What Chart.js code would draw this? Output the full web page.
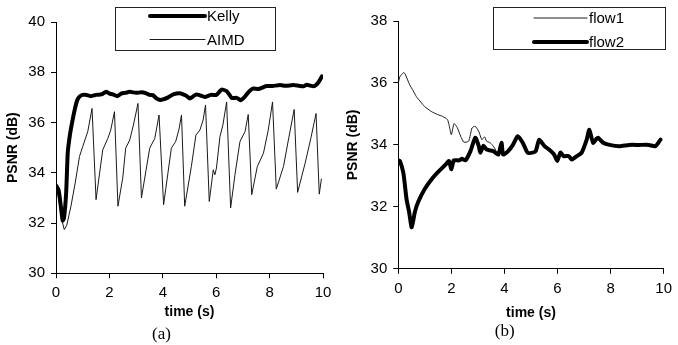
<!DOCTYPE html>
<html>
<head>
<meta charset="utf-8">
<script src="https://cdn.jsdelivr.net/npm/chart.js@4"></script>
<style>
  body { margin: 0; background: #fff; }
  #wrap { position: relative; width: 678px; height: 345px; }
  #boxA { position: absolute; left: 0; top: 0; }
  #boxB { position: absolute; left: 340px; top: 0; }
</style>
</head>
<body>
<div id="wrap">
  <canvas id="boxA" width="340" height="345"></canvas>
  <canvas id="boxB" width="338" height="345"></canvas>
</div>
<script>
// tick labels
const timeTicks = [0, 2, 4, 6, 8, 10];
const psnrTicksA = [30, 32, 34, 36, 38, 40];
const psnrTicksB = [30, 32, 34, 36, 38];

// (a) Kelly vs AIMD
const kellyTime = [0, 0.1, 0.2, 0.25, 0.3, 0.38, 0.44, 0.52, 0.62, 0.72, 0.8, 0.9, 1.0, 1.13, 1.3, 1.5, 1.7, 1.88, 2.0, 2.13, 2.3, 2.44, 2.6, 2.76, 3.0, 3.2, 3.38, 3.5, 3.63, 3.76, 3.9, 4.01, 4.2, 4.39, 4.64, 4.76, 4.9, 5.01, 5.15, 5.26, 5.4, 5.57, 5.8, 6.01, 6.1, 6.2, 6.39, 6.5, 6.58, 6.77, 6.93, 7.05, 7.14, 7.28, 7.39, 7.58, 7.75, 7.89, 8.1, 8.39, 8.6, 8.89, 9.1, 9.27, 9.39, 9.65, 9.75, 9.84, 9.96];
const kellyPsnr = [33.5, 33.3, 32.5, 32.1, 32.2, 33.2, 34.8, 35.5, 36.1, 36.6, 36.9, 37.05, 37.1, 37.1, 37.05, 37.1, 37.12, 37.22, 37.15, 37.12, 37.05, 37.15, 37.18, 37.22, 37.18, 37.2, 37.16, 37.1, 37.09, 36.96, 36.9, 36.92, 37.0, 37.12, 37.16, 37.12, 37.05, 36.96, 37.05, 37.12, 37.08, 37.02, 37.1, 37.1, 37.2, 37.31, 37.25, 37.1, 36.98, 36.98, 36.89, 37.0, 37.12, 37.28, 37.35, 37.33, 37.4, 37.45, 37.45, 37.49, 37.46, 37.49, 37.46, 37.44, 37.5, 37.44, 37.5, 37.62, 37.84];
const aimdTime = [0, 0.1, 0.2, 0.31, 0.4, 0.56, 0.72, 0.88, 1.0, 1.19, 1.35, 1.5, 1.75, 1.94, 2.05, 2.19, 2.32, 2.5, 2.61, 2.76, 2.9, 3.07, 3.2, 3.51, 3.7, 3.86, 4.03, 4.32, 4.48, 4.6, 4.7, 4.82, 5.07, 5.24, 5.39, 5.51, 5.6, 5.74, 5.89, 5.95, 6.01, 6.14, 6.25, 6.39, 6.54, 6.7, 6.89, 7.08, 7.2, 7.33, 7.54, 7.77, 7.95, 8.11, 8.25, 8.52, 8.72, 8.92, 9.05, 9.33, 9.55, 9.74, 9.86, 9.94];
const aimdPsnr = [33.4, 33.0, 32.2, 31.74, 31.9, 32.67, 33.6, 34.65, 35.04, 35.64, 36.56, 32.93, 34.91, 35.37, 35.7, 36.43, 32.67, 33.8, 34.98, 35.3, 35.9, 36.76, 33.0, 34.98, 35.37, 36.3, 32.73, 34.98, 35.24, 35.7, 36.3, 32.67, 34.25, 35.5, 35.7, 36.1, 36.7, 32.86, 34.12, 33.92, 34.19, 35.44, 35.9, 36.82, 32.6, 33.9, 35.24, 35.64, 36.32, 33.13, 34.25, 34.78, 35.7, 36.82, 33.35, 34.25, 35.4, 36.52, 33.22, 34.38, 35.4, 36.36, 33.15, 33.75];

// (b) flow1 vs flow2
const flow1Time = [0, 0.06, 0.19, 0.25, 0.43, 0.56, 0.68, 0.85, 0.99, 1.24, 1.48, 1.67, 1.85, 1.91, 2.0, 2.1, 2.22, 2.35, 2.47, 2.65, 2.78, 2.9, 3.03, 3.15, 3.25, 3.33, 3.46, 3.58, 3.66];
const flow1Psnr = [36.0, 36.2, 36.33, 36.3, 35.94, 35.75, 35.56, 35.38, 35.24, 35.08, 34.98, 34.92, 34.82, 34.65, 34.33, 34.69, 34.56, 34.28, 34.09, 34.12, 34.55, 34.6, 34.44, 34.17, 34.26, 34.12, 34.07, 33.96, 33.85];
const flow2Time = [0, 0.06, 0.19, 0.31, 0.41, 0.5, 0.55, 0.62, 0.74, 0.99, 1.3, 1.54, 1.79, 1.91, 2.0, 2.09, 2.28, 2.4, 2.53, 2.72, 2.9, 3.03, 3.09, 3.21, 3.33, 3.58, 3.77, 3.89, 3.95, 4.14, 4.32, 4.5, 4.69, 4.87, 5.06, 5.18, 5.31, 5.5, 5.68, 5.87, 5.99, 6.11, 6.23, 6.42, 6.54, 6.73, 6.91, 7.1, 7.2, 7.34, 7.47, 7.53, 7.72, 7.96, 8.33, 8.7, 9.07, 9.44, 9.69, 9.88];
const flow2Psnr = [33.5, 33.48, 33.1, 32.25, 31.82, 31.34, 31.5, 31.82, 32.14, 32.57, 32.94, 33.16, 33.37, 33.48, 33.21, 33.5, 33.5, 33.55, 33.5, 33.8, 34.23, 33.97, 33.75, 33.97, 33.85, 33.8, 33.69, 34.07, 33.69, 33.8, 34.0, 34.28, 34.07, 33.75, 33.75, 33.8, 34.17, 33.97, 33.85, 33.69, 33.48, 33.75, 33.64, 33.64, 33.53, 33.64, 33.75, 34.17, 34.49, 34.07, 34.2, 34.23, 34.07, 34.0, 33.96, 34.0, 34.0, 34.0, 33.96, 34.17];

Chart.defaults.font.family = "'Liberation Sans', Arial, sans-serif";
Chart.defaults.color = "#000";
Chart.defaults.animation = false;

function toPoints(ts, vs) {
  return ts.map((t, i) => ({ x: t, y: vs[i] }));
}

// legend drawn as a framed box sitting over the plot, like the original figure
const boxLegend = {
  id: "boxLegend",
  afterDraw(chart, args, opts) {
    const ctx = chart.ctx;
    ctx.save();
    ctx.strokeStyle = "#222";
    ctx.lineWidth = 1;
    ctx.fillStyle = "#fff";
    ctx.fillRect(opts.x, opts.y, opts.w, opts.h);
    ctx.strokeRect(opts.x + 0.5, opts.y + 0.5, opts.w, opts.h);
    ctx.font = "15px 'Liberation Sans', Arial, sans-serif";
    ctx.textBaseline = "middle";
    ctx.fillStyle = "#000";
    opts.order.forEach((di, row) => {
      const ds = chart.data.datasets[di];
      const y = opts.rows[row];
      ctx.beginPath();
      ctx.strokeStyle = ds.borderColor;
      ctx.lineWidth = ds.borderWidth;
      ctx.lineCap = "round";
      ctx.moveTo(opts.x0, y);
      ctx.lineTo(opts.x1, y);
      ctx.stroke();
      ctx.fillText(ds.label, opts.x1 + 2, y + 1);
    });
    ctx.restore();
  },
};

function axes(yTicks, yMin, yMax, o) {
  return {
    x: {
      type: "linear",
      min: 0,
      max: 10,
      afterBuildTicks: (s) => { s.ticks = timeTicks.map((v) => ({ value: v })); },
      afterFit: (s) => { s.height = o.xh; },
      grid: { drawOnChartArea: false, tickLength: 5, color: "#000" },
      border: { color: "#000", width: 1 },
      ticks: { font: { size: 15 }, padding: o.xpad, maxRotation: 0 },
      title: { display: true, text: "time (s)", font: { size: 14, weight: "bold" }, padding: { top: 0, bottom: o.xtpad } },
    },
    y: {
      min: yMin,
      max: yMax,
      afterBuildTicks: (s) => { s.ticks = yTicks.map((v) => ({ value: v })); },
      afterFit: (s) => { s.width = o.yw; },
      grid: { drawOnChartArea: false, tickLength: 5, color: "#000" },
      border: { color: "#000", width: 1 },
      ticks: { font: { size: 15 }, padding: o.ypad },
      title: { display: true, text: "PSNR (dB)", font: { size: 14, weight: "bold" }, padding: { top: 5, bottom: 0 } },
    },
  };
}

new Chart(document.getElementById("boxA"), {
  type: "line",
  data: {
    datasets: [
      { label: "Kelly", data: toPoints(kellyTime, kellyPsnr), borderColor: "#000", borderWidth: 4, tension: 0.2 },
      { label: "AIMD", data: toPoints(aimdTime, aimdPsnr), borderColor: "#1a1a1a", borderWidth: 1, tension: 0 },
    ],
  },
  options: {
    responsive: false,
    parsing: true,
    elements: { point: { radius: 0 }, line: { borderJoinStyle: "round", borderCapStyle: "round" } },
    layout: { padding: { left: 0, top: 22, right: 17, bottom: 0 } },
    scales: axes(psnrTicksA, 30, 40, { xh: 51.3, xpad: 6, xtpad: 4, yw: 56, ypad: 6 }),
    plugins: {
      legend: { display: false },
      tooltip: { enabled: false },
      title: { display: true, position: "bottom", text: "(a)", font: { family: "'Liberation Serif', 'Times New Roman', serif", size: 17, weight: "normal" }, padding: { top: 0, bottom: 0 } },
      boxLegend: { x: 115, y: 7, w: 160, h: 43, x0: 150, x1: 205, rows: [16, 39.5], order: [0, 1] },
    },
  },
  plugins: [boxLegend],
});

new Chart(document.getElementById("boxB"), {
  type: "line",
  data: {
    datasets: [
      { label: "flow1", data: toPoints(flow1Time, flow1Psnr), borderColor: "#1a1a1a", borderWidth: 1, tension: 0.2 },
      { label: "flow2", data: toPoints(flow2Time, flow2Psnr), borderColor: "#000", borderWidth: 4, tension: 0.2 },
    ],
  },
  options: {
    responsive: false,
    elements: { point: { radius: 0 }, line: { borderJoinStyle: "round", borderCapStyle: "round" } },
    layout: { padding: { left: 0, top: 21, right: 8.7, bottom: 0 } },
    scales: axes(psnrTicksB, 30, 38, { xh: 52.8, xpad: 6, xtpad: 0, yw: 58.3, ypad: 6 }),
    plugins: {
      legend: { display: false },
      tooltip: { enabled: false },
      title: { display: true, position: "bottom", text: "(b)", font: { family: "'Liberation Serif', 'Times New Roman', serif", size: 17, weight: "normal" }, padding: { top: 0, bottom: 3 } },
      boxLegend: { x: 153, y: 7, w: 172, h: 42, x0: 194, x1: 247, rows: [18, 42], order: [0, 1] },
    },
  },
  plugins: [boxLegend],
});
</script>
</body>
</html>
